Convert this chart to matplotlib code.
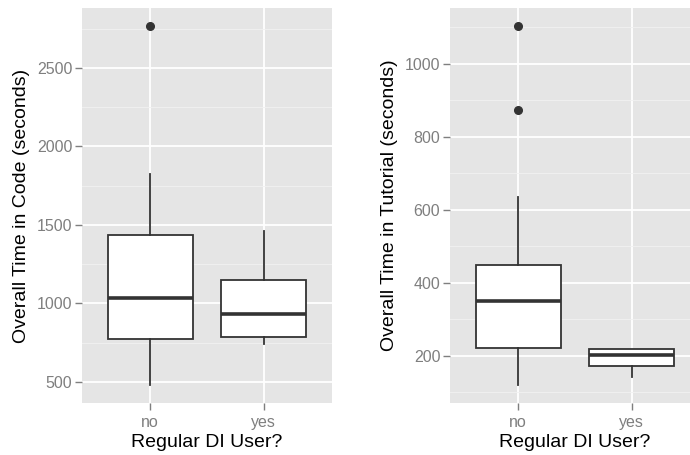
import matplotlib
matplotlib.use("Agg")
import matplotlib.pyplot as plt

plt.rcParams['font.family'] = ['Liberation Sans', 'DejaVu Sans']

groups = ["no", "yes"]

# Five-number summaries and outliers per group (seconds)
code_whislo = [479, 740]
code_q1 = [772, 787]
code_med = [1032, 930]
code_q3 = [1436, 1149]
code_whishi = [1826, 1464]
code_fliers = [[2768], []]

tut_whislo = [120, 142]
tut_q1 = [222, 173]
tut_med = [350, 201]
tut_q3 = [448, 218]
tut_whishi = [636, 218]
tut_fliers = [[1103, 873], []]

code_major = [500, 1000, 1500, 2000, 2500]
code_minor = [750, 1250, 1750, 2250, 2750]
tut_major = [200, 400, 600, 800, 1000]
tut_minor = [100, 300, 500, 700, 900, 1100]

GREY90 = "#E5E5E5"
GREY50 = "#7F7F7F"
GREY20 = "#333333"

fig = plt.figure(figsize=(6.9, 4.55), dpi=100)
ax1 = fig.add_axes([82 / 690, 52 / 455, 250 / 690, 395 / 455])
ax2 = fig.add_axes([450 / 690, 52 / 455, 250 / 690, 395 / 455])


def panel(ax, wl, q1, med, q3, wh, fl, major, minor, ylabel):
    stats = []
    for i, g in enumerate(groups):
        stats.append(dict(label=g, whislo=wl[i], q1=q1[i], med=med[i],
                          q3=q3[i], whishi=wh[i], fliers=fl[i]))
    ax.set_facecolor(GREY90)
    ax.bxp(stats, positions=[1, 2], widths=0.75, patch_artist=True,
           showcaps=False,
           boxprops=dict(facecolor="white", edgecolor=GREY20, linewidth=1.3),
           medianprops=dict(color=GREY20, linewidth=2.6),
           whiskerprops=dict(color=GREY20, linewidth=1.3),
           flierprops=dict(marker="o", markersize=5.5, markerfacecolor=GREY20,
                           markeredgecolor=GREY20),
           zorder=3)
    allv = wl + wh + [v for f in fl for v in f]
    lo, hi = min(allv), max(allv)
    pad = (hi - lo) * 0.05
    ax.set_ylim(lo - pad, hi + pad)
    ax.set_xlim(0.4, 2.6)
    ax.set_yticks(major)
    ax.set_yticks(minor, minor=True)
    ax.set_xticks([1, 2])
    ax.set_xticklabels(groups)
    ax.grid(which="major", color="white", linewidth=1.3, zorder=0)
    ax.grid(which="minor", axis="y", color="#F2F2F2", linewidth=0.6, zorder=0)
    ax.set_axisbelow(True)
    for s in ax.spines.values():
        s.set_visible(False)
    ax.tick_params(which="major", length=5, width=1, color=GREY50,
                   labelcolor=GREY50, labelsize=11.5, pad=2)
    ax.tick_params(axis="x", which="major", pad=3.5)
    ax.tick_params(which="minor", length=0)
    ax.set_xlabel("Regular DI User?", fontsize=14, labelpad=3)
    ax.set_ylabel(ylabel, fontsize=14, labelpad=5)


panel(ax1, code_whislo, code_q1, code_med, code_q3, code_whishi, code_fliers,
      code_major, code_minor, "Overall Time in Code (seconds)")
panel(ax2, tut_whislo, tut_q1, tut_med, tut_q3, tut_whishi, tut_fliers,
      tut_major, tut_minor, "Overall Time in Tutorial (seconds)")

fig.savefig("out.png", dpi=100)
